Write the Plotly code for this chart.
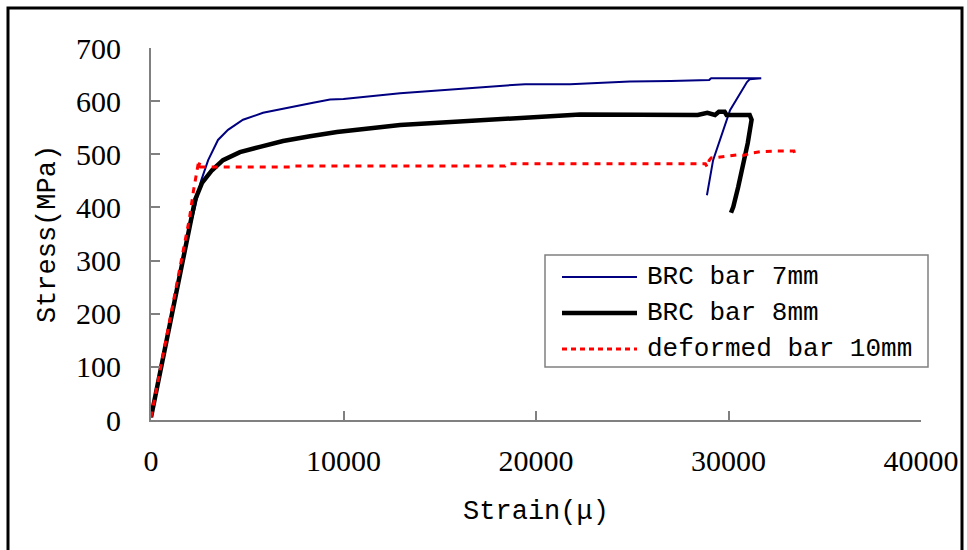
import plotly.graph_objects as go

# ---- data (strain in micro-strain, stress in MPa) ----
brc7_strain = [0, 1000, 2000, 2290, 2600, 2970, 3480, 4000, 4780, 5820, 7220, 8420, 9300, 10000,
               12940, 15690, 17350, 19430, 21770, 24880, 27000, 29000, 29100, 31700, 31100, 30960,
               30080, 29560, 29200, 28880]
brc7_stress = [5, 180, 360, 401, 450, 489, 527, 546, 565, 578, 589, 597, 603, 604,
               615, 622, 627, 632, 632, 637, 638, 640, 643, 643, 641, 636,
               583, 527, 489, 423]

brc8_strain = [0, 1000, 2000, 2290, 2650, 3170, 3740, 4620, 5660, 6860, 8260, 9300, 9660, 12940,
               15690, 17350, 19690, 22290, 28400, 28900, 29300, 29500, 29800, 29900, 31100, 31200,
               31000, 30750, 30500, 30250, 30130]
brc8_stress = [5, 180, 360, 414, 446, 470, 489, 504, 514, 525, 534, 541, 542, 555,
               561, 565, 571, 575, 574, 578, 574, 580, 580, 574, 574, 565,
               521, 476, 438, 401, 390]

def10_strain = [0, 1000, 2000, 2200, 2400, 2480, 2560, 2450, 2300, 5000, 7300, 7400, 18400, 18500,
                28400, 28800, 28900, 29000, 29100, 29700, 30500, 30800, 31100, 31700, 32300, 33400, 33460]
def10_stress = [5, 190, 380, 430, 478, 488, 486, 476, 476, 476, 476, 478, 478, 482,
                482, 482, 476, 489, 493, 495, 499, 498, 502, 505, 506, 506, 499]

series_names = ["BRC bar 7mm", "BRC bar 8mm", "deformed bar 10mm"]
x_ticks = [0, 10000, 20000, 30000, 40000]
x_tick_text = ["0", "10000", "20000", "30000", "40000"]
y_ticks = [0, 100, 200, 300, 400, 500, 600, 700]

colors = ["#000080", "#000000", "#ff0000"]
widths = [2, 4.5, 3]
dashes = ["solid", "solid", "6px,6px"]

fig = go.Figure()
for xs, ys, name, c, w, d in zip([brc7_strain, brc8_strain, def10_strain],
                                 [brc7_stress, brc8_stress, def10_stress],
                                 series_names, colors, widths, dashes):
    fig.add_trace(go.Scatter(x=xs, y=ys, mode="lines", name=name,
                             line=dict(color=c, width=w, dash=d), showlegend=False))

L, R, T, B = 151, 46, 48, 130
W, H = 967, 550
pw, ph = W - L - R, H - T - B

def px(x):
    return (x - L) / pw

def py(y):
    return (H - B - y) / ph

tick_font = dict(family="Liberation Serif", size=30, color="black")
mono = "Liberation Mono"

fig.update_layout(
    width=W, height=H,
    margin=dict(l=L, r=R, t=T, b=B, autoexpand=False),
    paper_bgcolor="white", plot_bgcolor="white",
    xaxis=dict(range=[0, 40000], tickvals=x_ticks, ticktext=x_tick_text, ticks="inside", ticklen=9,
               tickcolor="#808080", tickwidth=2, showline=True, linecolor="#808080",
               linewidth=2, showgrid=False, zeroline=False, tickfont=tick_font,
               ticklabelstandoff=13, automargin=False,
               title=dict(text="Strain(μ)", font=dict(family=mono, size=27, color="black"),
                          standoff=24)),
    yaxis=dict(range=[0, 700], tickvals=y_ticks, ticks="inside", ticklen=9,
               tickcolor="#808080", tickwidth=2, showline=True, linecolor="#808080",
               linewidth=2, showgrid=False, zeroline=False, tickfont=tick_font,
               ticklabelstandoff=22, automargin=False,
               title=dict(text="Stress(MPa)", font=dict(family=mono, size=27, color="black"),
                          standoff=13)),
    showlegend=False,
)

# outer frame
fig.add_shape(type="rect", xref="paper", yref="paper",
              x0=px(8), x1=px(962), y0=py(560), y1=py(8),
              line=dict(color="black", width=3), layer="below")

# manual legend (box, samples, labels)
fig.add_shape(type="rect", xref="paper", yref="paper",
              x0=px(545), x1=px(928), y0=py(367), y1=py(255),
              line=dict(color="#808080", width=1.5), fillcolor="white")
legend_y = [277, 313, 349]
leg_dash = ["solid", "solid", "5px,4px"]
for yy, name, c, w, d in zip(legend_y, series_names, colors, widths, leg_dash):
    fig.add_shape(type="line", xref="paper", yref="paper",
                  x0=px(562), x1=px(637), y0=py(yy), y1=py(yy),
                  line=dict(color=c, width=w if w > 2.5 else 2, dash=d))
    fig.add_annotation(xref="paper", yref="paper", x=px(645), y=py(yy),
                       xanchor="left", yanchor="middle", text=name, showarrow=False,
                       font=dict(family=mono, size=26, color="black"))

fig.write_html("out.html")
